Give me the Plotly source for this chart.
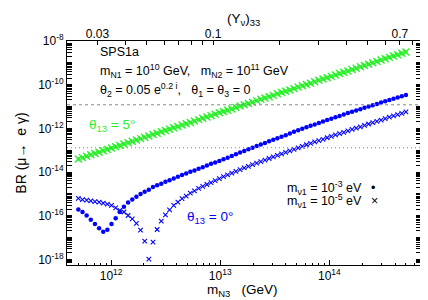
import numpy as np
import plotly.graph_objects as go

# ---- data ----
log10_mN3 = [11.700, 11.738, 11.776, 11.814, 11.852, 11.890, 11.928, 11.966, 12.004, 12.042,
             12.080, 12.118, 12.156, 12.194, 12.232, 12.270, 12.308, 12.346, 12.384, 12.422,
             12.460, 12.498, 12.536, 12.574, 12.612, 12.650, 12.688, 12.726, 12.764, 12.802,
             12.840, 12.878, 12.916, 12.954, 12.992, 13.030, 13.068, 13.106, 13.144, 13.182,
             13.220, 13.258, 13.296, 13.334, 13.372, 13.410, 13.448, 13.486, 13.524, 13.562,
             13.600, 13.638, 13.676, 13.714, 13.752, 13.790, 13.828, 13.866, 13.904, 13.942,
             13.980, 14.018, 14.056, 14.094, 14.132, 14.170, 14.208, 14.246, 14.284, 14.322,
             14.360, 14.398, 14.436, 14.474, 14.512, 14.550, 14.588, 14.626, 14.664, 14.702]

# theta13 = 5 deg (both m_nu1 values coincide)
log10_BR_t5 = [-13.40, -13.34, -13.28, -13.21, -13.15, -13.09, -13.03, -12.97, -12.90, -12.84,
               -12.78, -12.72, -12.66, -12.59, -12.53, -12.47, -12.41, -12.35, -12.28, -12.22,
               -12.16, -12.10, -12.04, -11.97, -11.91, -11.85, -11.79, -11.73, -11.66, -11.60,
               -11.54, -11.48, -11.42, -11.35, -11.29, -11.23, -11.17, -11.11, -11.04, -10.98,
               -10.92, -10.86, -10.80, -10.73, -10.67, -10.61, -10.55, -10.49, -10.42, -10.36,
               -10.30, -10.24, -10.18, -10.11, -10.05, -9.99, -9.93, -9.87, -9.80, -9.74,
               -9.68, -9.62, -9.56, -9.49, -9.43, -9.37, -9.31, -9.25, -9.18, -9.12,
               -9.06, -9.00, -8.94, -8.87, -8.81, -8.75, -8.69, -8.63, -8.56, -8.50]

# theta13 = 0, m_nu1 = 1e-3 eV (dots)
log10_BR_t0_m3 = [-15.71, -15.83, -15.99, -16.18, -16.38, -16.57, -16.73, -16.64, -16.38, -16.11,
                  -15.83, -15.59, -15.39, -15.26, -15.13, -15.01, -14.90, -14.81, -14.69, -14.61,
                  -14.54, -14.45, -14.37, -14.29, -14.22, -14.14, -14.07, -13.99, -13.93, -13.85,
                  -13.78, -13.70, -13.62, -13.56, -13.49, -13.41, -13.34, -13.26, -13.19, -13.11,
                  -13.04, -12.96, -12.89, -12.81, -12.74, -12.67, -12.59, -12.52, -12.45, -12.38,
                  -12.31, -12.23, -12.16, -12.09, -12.02, -11.95, -11.88, -11.82, -11.75, -11.69,
                  -11.62, -11.56, -11.49, -11.43, -11.36, -11.30, -11.24, -11.18, -11.12, -11.06,
                  -11.00, -10.94, -10.88, -10.82, -10.76, -10.70, -10.64, -10.59, -10.53, -10.47]

# theta13 = 0, m_nu1 = 1e-5 eV (crosses)
log10_BR_t0_m5 = [-15.21, -15.26, -15.29, -15.32, -15.35, -15.38, -15.42, -15.47, -15.53, -15.64,
                  -15.76, -15.83, -15.99, -16.14, -16.35, -16.66, -17.16, -17.99, -17.21, -16.63,
                  -16.25, -15.96, -15.73, -15.53, -15.38, -15.22, -15.10, -14.97, -14.86, -14.75,
                  -14.66, -14.57, -14.48, -14.39, -14.30, -14.21, -14.13, -14.05, -13.97, -13.89,
                  -13.81, -13.74, -13.66, -13.59, -13.52, -13.45, -13.38, -13.31, -13.24, -13.17,
                  -13.10, -13.03, -12.96, -12.89, -12.82, -12.75, -12.69, -12.62, -12.56, -12.50,
                  -12.43, -12.37, -12.30, -12.24, -12.18, -12.11, -12.05, -11.99, -11.93, -11.86,
                  -11.80, -11.74, -11.68, -11.62, -11.55, -11.49, -11.43, -11.37, -11.31, -11.25]

bound_upper = 1.2e-11   # dashed
bound_lower = 1.3e-13   # dotted

x_tick_vals = [1e12, 1e13, 1e14]
x_tick_text = ["10<sup>12</sup>", "10<sup>13</sup>", "10<sup>14</sup>"]
y_tick_vals = [1e-18, 1e-16, 1e-14, 1e-12, 1e-10, 1e-8]
y_tick_text = ["10<sup>-18</sup>", "10<sup>-16</sup>", "10<sup>-14</sup>",
               "10<sup>-12</sup>", "10<sup>-10</sup>", "10<sup>-8</sup>"]
top_tick_vals = [0.03, 0.04, 0.05, 0.06, 0.07, 0.08, 0.09, 0.1,
                 0.2, 0.3, 0.4, 0.5, 0.6, 0.7, 0.8]
top_tick_text = ["0.03", "", "", "", "", "", "", "0.1",
                 "", "", "", "", "", "0.7", ""]

# ---- figure ----
mN3 = 10 ** np.array(log10_mN3)
BR_t5 = 10 ** np.array(log10_BR_t5)
BR_m3 = 10 ** np.array(log10_BR_t0_m3)
BR_m5 = 10 ** np.array(log10_BR_t0_m5)

GREEN = "#2bef2b"
BLUE = "#0000ff"
FONT = "Liberation Sans, Arial, sans-serif"

fig = go.Figure()
fig.add_trace(go.Scatter(x=mN3, y=BR_t5, mode="markers", hoverinfo="skip",
                         marker=dict(symbol="x-thin", size=7, line=dict(width=1.4, color=GREEN), color=GREEN)))
fig.add_trace(go.Scatter(x=mN3, y=BR_t5, mode="markers", hoverinfo="skip",
                         marker=dict(symbol="circle", size=3.5, color=GREEN)))
fig.add_trace(go.Scatter(x=mN3, y=BR_m5, mode="markers",
                         marker=dict(symbol="x-thin", size=4.5, line=dict(width=1.1, color=BLUE), color=BLUE)))
fig.add_trace(go.Scatter(x=mN3, y=BR_m3, mode="markers",
                         marker=dict(symbol="circle", size=4.5, color=BLUE)))
# invisible trace so that the top (Y_nu)_33 axis is drawn
fig.add_trace(go.Scatter(x=top_tick_vals, y=[None] * len(top_tick_vals), xaxis="x2", yaxis="y",
                         mode="markers", marker=dict(opacity=0), hoverinfo="skip"))

fig.add_hline(y=bound_upper, line=dict(color="#888888", width=1, dash="3px,3px"))
fig.add_hline(y=bound_lower, line=dict(color="#888888", width=1, dash="1px,3px"))

minor_x = [m * 10 ** e for e in range(11, 15) for m in range(2, 10)]
minor_y = [m * 10 ** e for e in range(-19, -8) for m in range(1, 10)]

fig.update_layout(
    width=428, height=300,
    margin=dict(l=59, r=15, t=33, b=43, autoexpand=False),
    paper_bgcolor="white", plot_bgcolor="white",
    showlegend=False,
    font=dict(family=FONT, size=12, color="black"),
    xaxis=dict(type="log", range=[11.596, 14.84], showgrid=False, zeroline=False,
               automargin=False,
               showline=True, linecolor="black", linewidth=1,
               ticks="inside", ticklen=5, tickcolor="black",
               tickmode="array", tickvals=x_tick_vals, ticktext=x_tick_text,
               minor=dict(ticks="inside", ticklen=2.5, tickcolor="black",
                          tickmode="array", tickvals=minor_x, showgrid=False),
               tickfont=dict(size=12)),
    xaxis2=dict(type="log", range=[-1.661, -0.059], overlaying="x", side="top",
                anchor="y", showgrid=False, zeroline=False, automargin=False,
                showline=True, linecolor="black", linewidth=1,
                ticks="inside", ticklen=4, tickcolor="black", ticklabelstandoff=-3,
                tickmode="array", tickvals=top_tick_vals, ticktext=top_tick_text,
                tickfont=dict(size=12)),
    yaxis=dict(type="log", range=[-18.256, -8], showgrid=False, zeroline=False,
               automargin=False,
               showline=True, linecolor="black", linewidth=1, mirror="allticks",
               ticks="inside", ticklen=5, tickcolor="black",
               tickmode="array", tickvals=y_tick_vals, ticktext=y_tick_text,
               minor=dict(ticks="inside", ticklen=2.5, tickcolor="black",
                          tickmode="array", tickvals=minor_y, showgrid=False),
               tickfont=dict(size=12)),
)

def ann(text, x, y, color="black", xanchor="left", size=12.5, angle=0):
    fig.add_annotation(text=text, x=x, y=y, xref="paper", yref="paper",
                       xanchor=xanchor, yanchor="middle", showarrow=False,
                       textangle=angle, font=dict(family=FONT, size=size, color=color))

ann("SPS1a", 0.087, 0.951)
ann("m<sub>N1</sub> = 10<sup>10</sup> GeV,   m<sub>N2</sub> = 10<sup>11</sup> GeV", 0.087, 0.866)
ann("θ<sub>2</sub> = 0.05 e<sup>0.2 i</sup>,   θ<sub>1</sub> = θ<sub>3</sub> = 0", 0.087, 0.783)
ann("θ<sub>13</sub> = 5°", 0.056, 0.625, color=GREEN, size=13.5)
ann("θ<sub>13</sub> = 0°", 0.333, 0.211, color=BLUE, size=13.5)
ann("m<sub>ν1</sub> = 10<sup>-3</sup> eV", 0.615, 0.345)
ann("m<sub>ν1</sub> = 10<sup>-5</sup> eV", 0.615, 0.287)
ann("•", 0.853, 0.345)
ann("×", 0.853, 0.287)
ann("(Y<sub>ν</sub>)<sub>33</sub>", 0.499, 1.098, xanchor="center", size=13.5)
ann("m<sub>N3</sub>   (GeV)", 0.497, -0.115, xanchor="center", size=13.5)
ann("BR (μ→  e γ)", -0.131, 0.5, xanchor="center", size=14, angle=-90)

fig.write_html("out.html")
